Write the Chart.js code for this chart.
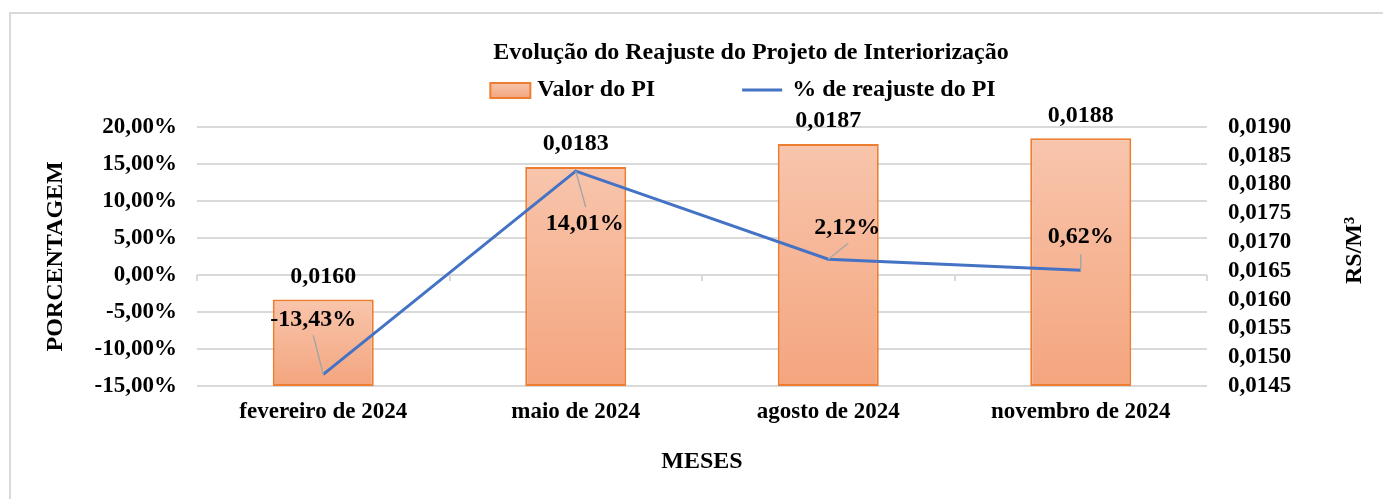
<!doctype html>
<html lang="pt">
<head>
<meta charset="utf-8">
<script src="https://cdn.jsdelivr.net/npm/chart.js"></script>
<style>
  html, body { margin: 0; padding: 0; background: #fff; overflow: hidden; }
  body { width: 1383px; height: 499px; position: relative; }
  .frame {
    position: absolute; left: 9px; top: 12px;
    width: 1480px; height: 487px;
    border-top: 2px solid #d9d9d9; border-left: 2px solid #d9d9d9;
  }
</style>
</head>
<body>
<div class="frame">
  <canvas id="pi-chart" width="1480" height="485"></canvas>
</div>

<script>
// ---- dados ----
const categories = ['fevereiro de 2024', 'maio de 2024', 'agosto de 2024', 'novembro de 2024'];
const valorPI = [0.0160, 0.0183, 0.0187, 0.0188];       // R$/m³ (eixo direito)
const reajustePI = [-13.43, 14.01, 2.12, 0.62];        // % (eixo esquerdo)
const pctAxis = [-15, 20, 5];                          // min, max, passo
const valAxis = [0.0145, 0.0190, 0.0005];

// posição dos rótulos de % (deslocamento texto / fim da linha guia, em px)
const pctLabelPos = [
  { dx: -10, dy: -55, lx: -10, ly: -39 },
  { dx: 9, dy: 53, lx: 10, ly: 36 },
  { dx: 19, dy: -31, lx: 20, ly: -16 },
  { dx: 0, dy: -34, lx: 0, ly: -16 }
];

const FAMILY = "'Liberation Serif', 'Times New Roman', serif";
const font24 = { family: FAMILY, size: 24, weight: 'bold' };
const font23 = { family: FAMILY, size: 23, weight: 'bold' };

const fmtPct = v => v.toFixed(2).replace('.', ',') + '%';
const fmtVal = v => v.toFixed(4).replace('.', ',');

/*-------- rótulos, guias, legenda e título do eixo direito --------*/
const extrasPlugin = {
  id: 'extras',
  beforeDatasetsDraw(chart) {
    // pequenas marcas do eixo de categorias na linha do zero
    const { ctx, chartArea: a, scales } = chart;
    const y0 = scales.y.getPixelForValue(0);
    const step = (a.right - a.left) / categories.length;
    ctx.save();
    ctx.strokeStyle = '#d9d9d9';
    ctx.lineWidth = 2;
    for (let i = 0; i <= categories.length; i++) {
      const x = Math.round(a.left + i * step);
      ctx.beginPath();
      ctx.moveTo(x, y0);
      ctx.lineTo(x, y0 + 6);
      ctx.stroke();
    }
    ctx.restore();
  },
  afterDatasetsDraw(chart) {
    const { ctx } = chart;
    const bars = chart.getDatasetMeta(1).data;
    const pts = chart.getDatasetMeta(0).data;
    ctx.save();
    ctx.fillStyle = '#000';
    ctx.font = 'bold 24px ' + FAMILY;
    ctx.textAlign = 'center';
    ctx.textBaseline = 'middle';

    bars.forEach((b, i) => {
      ctx.fillText(fmtVal(valorPI[i]), b.x, b.y - 23);
    });

    pts.forEach((p, i) => {
      const o = pctLabelPos[i];
      ctx.strokeStyle = '#a6a6a6';
      ctx.lineWidth = 1.5;
      ctx.beginPath();
      ctx.moveTo(p.x, p.y);
      ctx.lineTo(p.x + o.lx, p.y + o.ly);
      ctx.stroke();
      ctx.fillText(fmtPct(reajustePI[i]), p.x + o.dx, p.y + o.dy);
    });
    ctx.restore();
  },
  afterDraw(chart) {
    const { ctx, chartArea: a } = chart;
    const ds = chart.data.datasets;
    ctx.save();
    ctx.font = 'bold 24px ' + FAMILY;
    ctx.fillStyle = '#000';
    ctx.textBaseline = 'middle';
    ctx.textAlign = 'left';

    // legenda
    const t1 = ds[1].label, t2 = ds[0].label;
    const w1 = 40 + 7 + ctx.measureText(t1).width;
    const w2 = 40 + 10 + ctx.measureText(t2).width;
    const gap = 87;
    const y = 76;
    let x = chart.width / 2 - 8 - (w1 + gap + w2) / 2;
    const g = ctx.createLinearGradient(0, y - 7, 0, y + 8);
    g.addColorStop(0, '#f8c5ac');
    g.addColorStop(1, '#f4a57e');
    ctx.fillStyle = g;
    ctx.fillRect(x, y - 7, 40, 15);
    ctx.strokeStyle = '#ed7d31';
    ctx.lineWidth = 2;
    ctx.strokeRect(x, y - 7, 40, 15);
    ctx.fillStyle = '#000';
    ctx.fillText(t1, x + 47, y);
    x += w1 + gap;
    ctx.strokeStyle = '#4472c4';
    ctx.lineWidth = 3;
    ctx.beginPath();
    ctx.moveTo(x, y);
    ctx.lineTo(x + 40, y);
    ctx.stroke();
    ctx.fillText(t2, x + 50, y);

    // título do eixo secundário (lido de baixo para cima)
    ctx.translate(1344, (a.top + a.bottom) / 2 - 6);
    ctx.rotate(-Math.PI / 2);
    ctx.textAlign = 'center';
    ctx.fillText('RS/M³', 0, 0);
    ctx.restore();
  }
};

const piChart = new Chart(document.getElementById('pi-chart'), {
  data: {
    labels: categories,
    datasets: [{
      type: 'line',
      label: '% de reajuste do PI',
      data: reajustePI,
      yAxisID: 'y',
      borderColor: '#4472c4',
      borderWidth: 3,
      pointRadius: 0,
      tension: 0,
      order: 1
    }, {
      type: 'bar',
      label: 'Valor do PI',
      data: valorPI,
      yAxisID: 'y1',
      base: valAxis[0],
      backgroundColor: (c) => {
        const ch = c.chart;
        if (!ch.chartArea || c.type !== 'data') return '#f5b393';
        const s = ch.scales.y1;
        const top = s.getPixelForValue(c.raw);
        const bot = s.getPixelForValue(valAxis[0]);
        const g = ch.ctx.createLinearGradient(0, top, 0, bot);
        g.addColorStop(0, '#f8c5ac');
        g.addColorStop(1, '#f4a57e');
        return g;
      },
      borderColor: '#ed7d31',
      borderWidth: 2,
      borderSkipped: false,
      barPercentage: 0.4,
      categoryPercentage: 1,
      order: 2
    }]
  },
  options: {
    responsive: false,
    animation: false,
    devicePixelRatio: 1,
    layout: { padding: 0 },
    plugins: {
      legend: { display: false },
      tooltip: { enabled: false },
      title: {
        display: true,
        text: 'Evolução do Reajuste do Projeto de Interiorização',
        color: '#000',
        font: font24,
        padding: { top: 24, bottom: 60 }
      }
    },
    scales: {
      x: {
        grid: { display: false, drawTicks: false },
        border: { display: false },
        ticks: { color: '#000', font: font23, padding: 12, maxRotation: 0 },
        title: { display: true, text: 'MESES', color: '#000', font: font24, padding: { top: 0, bottom: 23 } },
        afterFit: s => { s.height = 113; }
      },
      y: {
        position: 'left',
        min: pctAxis[0],
        max: pctAxis[1],
        ticks: { stepSize: pctAxis[2], autoSkip: false, color: '#000', font: font23, padding: 20, callback: v => fmtPct(v) },
        grid: { color: '#d9d9d9', lineWidth: 2, drawTicks: false },
        border: { display: false },
        title: { display: true, text: 'PORCENTAGEM', color: '#000', font: font24, padding: { top: 30, bottom: 0 } },
        afterFit: s => { s.width = 186; }
      },
      y1: {
        position: 'right',
        min: valAxis[0],
        max: valAxis[1],
        ticks: { stepSize: valAxis[2], autoSkip: false, color: '#000', font: font23, padding: 21, callback: v => fmtVal(v) },
        grid: { display: false, drawTicks: false },
        border: { display: false },
        afterFit: s => { s.width = 284; }
      }
    }
  },
  plugins: [extrasPlugin]
});
</script>
</body>
</html>
